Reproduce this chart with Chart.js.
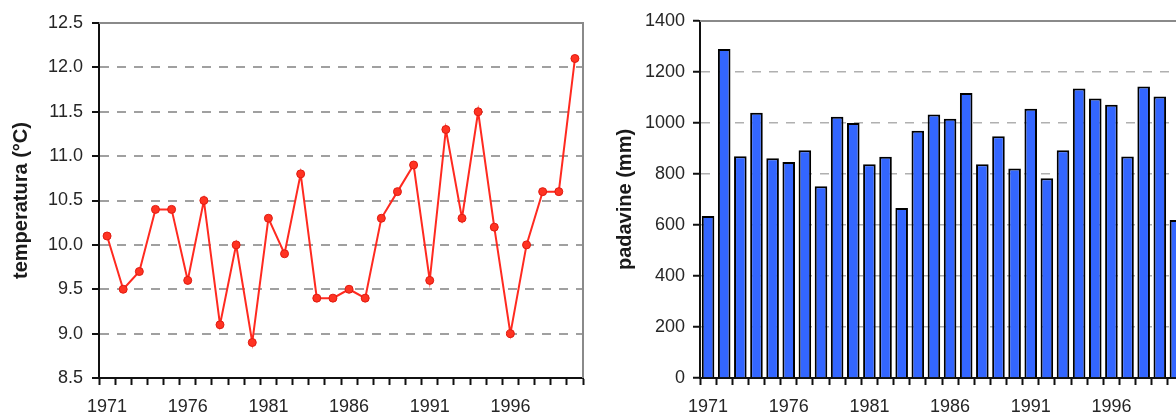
<!DOCTYPE html>
<html>
<head>
<meta charset="utf-8">
<script src="https://cdn.jsdelivr.net/npm/chart.js@4/dist/chart.umd.min.js"></script>
<style>
  html, body { margin: 0; padding: 0; background: #fff; overflow: hidden; width: 1176px; height: 414px; }
  canvas { position: absolute; top: 0; }
  #tempChart { left: 0; }
  #precChart { left: 600px; }
</style>
</head>
<body>
<canvas id="tempChart" width="600" height="414"></canvas>
<canvas id="precChart" width="600" height="414"></canvas>
<script>
const years = ['1971','1972','1973','1974','1975','1976','1977','1978','1979','1980',
               '1981','1982','1983','1984','1985','1986','1987','1988','1989','1990',
               '1991','1992','1993','1994','1995','1996','1997','1998','1999','2000'];
const temperature = [10.1, 9.5, 9.7, 10.4, 10.4, 9.6, 10.5, 9.1, 10.0, 8.9,
                     10.3, 9.9, 10.8, 9.4, 9.4, 9.5, 9.4, 10.3, 10.6, 10.9,
                     9.6, 11.3, 10.3, 11.5, 10.2, 9.0, 10.0, 10.6, 10.6, 12.1];
const precipitation = [635, 1290, 870, 1040, 862, 847, 893, 752, 1025, 1000,
                       838, 868, 667, 970, 1033, 1017, 1118, 838, 948, 822,
                       1056, 783, 893, 1135, 1096, 1072, 869, 1143, 1104, 620];
const xTickLabels = ['1971','1976','1981','1986','1991','1996'];
const tempAxis = { min: 8.5, max: 12.5, step: 0.5 };
const precAxis = { min: 0, max: 1400, step: 200 };
const tempTitle = 'temperatura (°C)';
const precTitle = 'padavine (mm)';

const FONT = "'Liberation Sans', Arial, sans-serif";
const TEXT = '#262626';

const framePlugin = {
  id: 'frame',
  beforeDatasetsDraw(chart, args, opts) {
    const { ctx, chartArea: a } = chart;
    ctx.save();
    ctx.strokeStyle = opts.color;
    ctx.lineWidth = opts.width;
    ctx.beginPath();
    ctx.moveTo(a.left, a.top);
    ctx.lineTo(a.right, a.top);
    ctx.lineTo(a.right, a.bottom);
    ctx.stroke();
    ctx.restore();
  }
};

function xScale() {
  return {
    type: 'category',
    offset: true,
    grid: { offset: true, drawOnChartArea: false, drawTicks: true, tickLength: 7, tickColor: '#111', tickWidth: 2 },
    border: { display: true, color: '#111', width: 2 },
    ticks: {
      autoSkip: false, maxRotation: 0, minRotation: 0, padding: 11,
      color: TEXT, font: { family: FONT, size: 18 },
      callback(v) { const l = this.getLabelForValue(v); return xTickLabels.includes(l) ? l : ''; }
    },
    afterFit(s) { s.height = 36; }
  };
}

function yScale(ax, title, width, titlePad, gridColor, gridWidth, decimals, labelPad) {
  return {
    min: ax.min, max: ax.max,
    grid: {
      color: (c) => (c.tick && (c.tick.value === ax.max || c.tick.value === ax.min)) ? 'rgba(0,0,0,0)' : gridColor,
      lineWidth: gridWidth,
      drawTicks: true, tickLength: 7, tickColor: '#111', tickWidth: 2, tickBorderDash: []
    },
    border: { display: true, color: '#111', width: 2, dash: [9, 8] },
    ticks: {
      stepSize: ax.step, padding: labelPad, color: TEXT,
      font: { family: FONT, size: 18 },
      callback: (v) => v.toFixed(decimals)
    },
    title: {
      display: true, text: title, color: '#1a1a1a',
      font: { family: FONT, size: 20, weight: 'bold' },
      padding: { top: titlePad, bottom: 0 }
    },
    afterFit(s) { s.width = width; }
  };
}

new Chart(document.getElementById('tempChart'), {
  type: 'line',
  data: {
    labels: years,
    datasets: [{
      data: temperature,
      borderColor: '#ff2a20',
      borderWidth: 2,
      pointRadius: 4,
      pointBackgroundColor: '#ff3322',
      pointBorderColor: '#e01a10',
      pointBorderWidth: 1,
      tension: 0,
      fill: false
    }]
  },
  options: {
    responsive: false,
    animation: false,
    layout: { padding: { left: 0, top: 23, right: 17, bottom: 0 } },
    plugins: { legend: { display: false }, tooltip: { enabled: false }, frame: { color: '#8a8a8a', width: 2 } },
    scales: {
      x: xScale(),
      y: yScale(tempAxis, tempTitle, 99, 9, '#a0a0a0', 2, 1, 9)
    }
  },
  plugins: [framePlugin]
});

new Chart(document.getElementById('precChart'), {
  type: 'bar',
  data: {
    labels: years,
    datasets: [{
      data: precipitation,
      backgroundColor: '#3366ff',
      borderColor: '#000',
      borderWidth: 2,
      barPercentage: 0.78,
      categoryPercentage: 1.0
    }]
  },
  options: {
    responsive: false,
    animation: false,
    layout: { padding: { left: 0, top: 21, right: 16, bottom: 0 } },
    plugins: { legend: { display: false }, tooltip: { enabled: false }, frame: { color: '#8a8a8a', width: 2 } },
    scales: {
      x: xScale(),
      y: yScale(precAxis, precTitle, 100, 13, '#b0b0b0', 1.5, 0, 8)
    }
  },
  plugins: [framePlugin]
});
</script>
</body>
</html>
